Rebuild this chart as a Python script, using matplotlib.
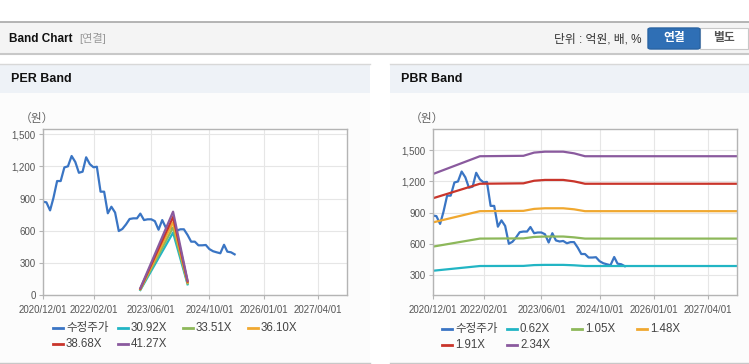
#! /usr/bin/env python3
import numpy as np
import pandas as pd
import matplotlib
matplotlib.use("Agg")
import matplotlib.pyplot as plt
import matplotlib.dates as mdates
from matplotlib.patches import Rectangle, FancyBboxPatch
from matplotlib.lines import Line2D
from matplotlib.ticker import FuncFormatter

plt.rcParams['font.family'] = ['Liberation Sans', 'Noto Sans CJK KR', 'DejaVu Sans']

# monthly adjusted price (수정주가), 2020/12 .. 2025/05
price_dates = pd.date_range("2020-12-01", periods=54, freq="MS")
price = [871, 865, 790, 905, 1063, 1063, 1190, 1200, 1296, 1240,
         1140, 1150, 1284, 1220, 1191, 1196, 964, 964, 763, 824,
         770, 598, 617, 660, 710, 716, 716, 760, 700, 707,
         707, 690, 610, 700, 630, 620, 625, 603, 614, 614,
         561, 499, 499, 465, 465, 468, 430, 410, 400, 391,
         470, 406, 400, 381]

# PER band
per_dates = pd.to_datetime(["2023-03-01", "2023-12-01", "2024-04-01"])
per_labels = ["30.92X", "33.51X", "36.10X", "38.68X", "41.27X"]
per_30 = [49, 583, 102]
per_33 = [54, 632, 111]
per_36 = [58, 680, 119]
per_38 = [62, 729, 128]
per_41 = [66, 778, 136]

# PBR band
pbr_dates = pd.to_datetime(["2020-12-01", "2022-01-01", "2023-01-01", "2023-04-01",
                            "2023-07-01", "2023-12-01", "2024-03-01", "2024-06-01",
                            "2027-12-01"])
pbr_labels = ["0.62X", "1.05X", "1.48X", "1.91X", "2.34X"]
pbr_062 = [337, 383, 384, 392, 394, 394, 390, 383, 383]
pbr_105 = [570, 648, 650, 664, 668, 668, 660, 648, 648]
pbr_148 = [804, 913, 916, 935, 941, 941, 931, 913, 913]
pbr_191 = [1037, 1178, 1182, 1207, 1215, 1215, 1201, 1178, 1178]
pbr_234 = [1271, 1444, 1448, 1479, 1488, 1488, 1472, 1444, 1444]

tick_dates = pd.to_datetime(["2020-12-01", "2022-02-01", "2023-06-01",
                             "2024-10-01", "2026-01-01", "2027-04-01"])

price_color = "#3a75c4"
band_colors = ["#22b5c4", "#8db85a", "#f0a830", "#c9352b", "#8a5a9e"]

W, H = 749, 364


def fx(x):
    return x / W


def fy(y):
    return 1 - y / H


def rect(fig, x0, y0, x1, y1, **kw):
    fig.patches.append(Rectangle((fx(x0), fy(y1)), fx(x1 - x0), (y1 - y0) / H,
                                 transform=fig.transFigure, zorder=-10, **kw))


def hline(fig, x0, x1, y, color, lw=1.0):
    fig.add_artist(Line2D([fx(x0), fx(x1)], [fy(y), fy(y)], color=color, lw=lw,
                          transform=fig.transFigure, zorder=-5))


def setup_axes(ax, ymin, ymax, yticks):
    ax.set_xlim(pd.Timestamp("2020-12-01"), pd.Timestamp("2027-12-01"))
    ax.set_ylim(ymin, ymax)
    ax.set_yticks(yticks)
    ax.yaxis.set_major_formatter(FuncFormatter(lambda v, p: f"{int(v):,}"))
    ax.set_xticks(tick_dates)
    ax.xaxis.set_major_formatter(mdates.DateFormatter("%Y/%m/%d"))
    ax.grid(True, color="#e6e6e6", lw=0.8)
    ax.set_axisbelow(True)
    for s in ax.spines.values():
        s.set_color("#b4b4b4")
        s.set_linewidth(1.0)
    ax.tick_params(axis="both", colors="#b4b4b4", labelcolor="#555555",
                   labelsize=7, length=3, width=0.8)
    ax.tick_params(axis="x", pad=4)
    ax.tick_params(axis="y", pad=2)
    ax.set_facecolor("white")


def legend(fig, x0, y0, labels, colors):
    cols = [0, 65, 130, 195]
    for k, (lab, c) in enumerate(zip(labels, colors)):
        x = x0 + cols[k % 4]
        y = y0 + 16 * (k // 4)
        fig.add_artist(Line2D([fx(x), fx(x + 10)], [fy(y), fy(y)], color=c, lw=2,
                              transform=fig.transFigure))
        fig.text(fx(x + 13), fy(y), lab, fontsize=8.3, color="#444444",
                 va="center", ha="left")


def main():
    fig = plt.figure(figsize=(W / 100, H / 100), dpi=100)
    fig.patch.set_facecolor("white")

    # top header
    rect(fig, 0, 22, W, 53, facecolor="#f4f4f4", edgecolor="none")
    hline(fig, 0, W, 22, "#a8a8a8", 1.2)
    hline(fig, 0, W, 53.5, "#c8c8c8", 1.5)
    fig.text(fx(9), fy(39), "Band Chart", fontsize=8.5, fontweight="bold",
             color="#111111", va="center")
    fig.text(fx(79), fy(39), "[연결]", fontsize=8, color="#999999", va="center")
    fig.text(fx(642), fy(39), "단위 : 억원, 배, %", fontsize=8.5, color="#333333",
             va="center", ha="right")
    fig.patches.append(FancyBboxPatch((fx(648), fy(49)), fx(52), 21 / H,
                                      boxstyle="round,pad=0,rounding_size=0.004",
                                      facecolor="#2f6fb5", edgecolor="#2a64a3",
                                      transform=fig.transFigure, zorder=-4))
    fig.text(fx(674), fy(38.5), "연결", fontsize=8.5, fontweight="bold", color="white",
             va="center", ha="center")
    rect(fig, 700, 28, 748, 49, facecolor="white", edgecolor="#c8c8c8", lw=0.8)
    fig.text(fx(724), fy(38.5), "별도", fontsize=8.5, fontweight="bold", color="#555555",
             va="center", ha="center")

    # panels
    for x0, x1, title in [(0, 370, "PER Band"), (390, W, "PBR Band")]:
        rect(fig, x0, 64, x1, 363, facecolor="#fcfcfc", edgecolor="none")
        rect(fig, x0, 64, x1, 93, facecolor="#eef2f7", edgecolor="none")
        hline(fig, x0, x1, 64, "#d8d8d8", 1.0)
        hline(fig, x0, x1, 362.5, "#c8c8c8", 1.0)
        fig.text(fx(x0 + 11), fy(79), title, fontsize=9, fontweight="bold",
                 color="#111111", va="center")
        fig.text(fx(x0 + 37), fy(118), "（원）", fontsize=8.5, color="#666666",
                 va="center", ha="center", family=['Noto Sans CJK KR'])

    # PER chart
    ax1 = fig.add_axes([fx(42.7), fy(295.3), fx(304.3), 166.6 / H])
    setup_axes(ax1, 0, 1550, [0, 300, 600, 900, 1200, 1500])
    ax1.plot(price_dates, price, color=price_color, lw=1.6)
    for vals, c in zip([per_30, per_33, per_36, per_38, per_41], band_colors):
        ax1.plot(per_dates, vals, color=c, lw=1.6)
    legend(fig, 53, 328, ["수정주가"] + per_labels, [price_color] + band_colors)

    # PBR chart
    ax2 = fig.add_axes([fx(432.7), fy(295.3), fx(304.6), 166.6 / H])
    setup_axes(ax2, 100, 1710, [300, 600, 900, 1200, 1500])
    ax2.plot(price_dates, price, color=price_color, lw=1.6)
    for vals, c in zip([pbr_062, pbr_105, pbr_148, pbr_191, pbr_234], band_colors):
        ax2.plot(pbr_dates, vals, color=c, lw=1.6)
    legend(fig, 442, 329, ["수정주가"] + pbr_labels, [price_color] + band_colors)

    fig.savefig("out.png", dpi=100)
    plt.close(fig)


if __name__ == "__main__":
    main()
